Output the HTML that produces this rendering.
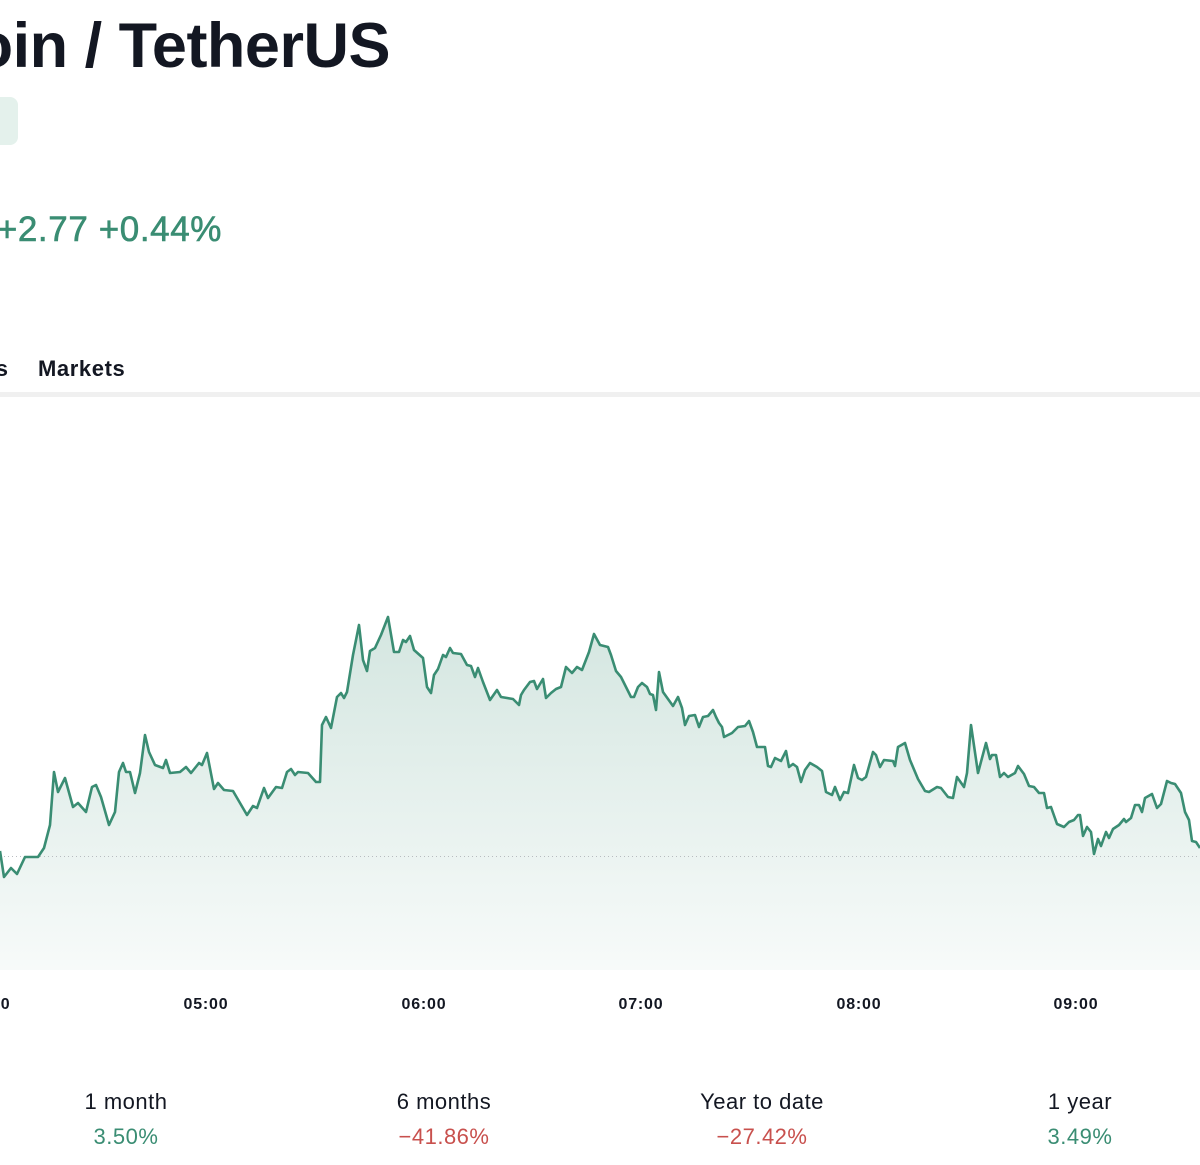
<!DOCTYPE html>
<html><head><meta charset="utf-8"><style>
html,body{margin:0;padding:0;background:#fff;width:1200px;height:1165px;overflow:hidden;position:relative;font-family:"Liberation Sans",sans-serif;color:#131722}
.a{position:absolute;white-space:nowrap}
#w{position:absolute;left:0;top:0;width:1200px;height:1165px;overflow:hidden}
</style></head><body><div id="w">
<div class="a" style="right:810px;top:6px;font-size:63px;font-weight:700;letter-spacing:-0.5px;line-height:80px">Bitcoin / TetherUS</div>
<div class="a" style="left:-20px;top:97px;width:38px;height:48px;background:#e4f1ec;border-radius:8px"></div>
<div class="a" style="right:978px;top:208px;font-size:35px;color:#3a8d73;line-height:44px;letter-spacing:0.6px;-webkit-text-stroke:0.6px #3a8d73">+2.77 +0.44%</div>
<div class="a" style="right:1192px;top:355px;font-size:22px;font-weight:700;line-height:28px">Ideas</div>
<div class="a" style="left:38px;top:355px;font-size:22px;font-weight:700;line-height:28px;letter-spacing:0.6px">Markets</div>
<div class="a" style="left:0;top:392px;width:1200px;height:5px;background:#f0f0f0"></div>
<svg class="a" style="left:0;top:0" width="1200" height="1165">
<defs><linearGradient id="g" x1="0" y1="617" x2="0" y2="970" gradientUnits="userSpaceOnUse"><stop offset="0" stop-color="#3a8d73" stop-opacity="0.22"/><stop offset="1" stop-color="#3a8d73" stop-opacity="0.04"/></linearGradient></defs>
<polygon fill="url(#g)" points="0,970 0,851 4,877 11,868 17,874 25,857 38,857 44,848 50,825 54,772 58,792 65,778 73,807 78,803 86,812 92,787 96,785 101,797 109,825 115,812 119,772 123,763 126,772 130,772 135,793 140,773 145,735 149,752 155,765 163,768 166,760 170,773 180,772 186,767 191,773 199,763 202,765 207,753 214,789 218,783 224,790 233,791 247,815 253,806 257,808 264,788 268,798 276,787 282,788 287,772 291,769 295,775 298,772 308,773 316,782 320,782 322,725 326,717 331,728 337,697 341,693 344,698 347,692 353,655 359,625 363,660 367,671 370,651 375,648 381,635 388,617 394,652 399,652 403,640 406,642 410,636 414,650 423,658 427,687 431,693 434,675 438,669 443,655 446,657 450,648 453,653 461,654 467,665 471,666 475,677 478,668 483,682 490,700 497,690 501,697 513,699 519,705 521,695 524,690 530,682 534,681 537,689 543,679 546,698 551,693 556,689 561,687 566,667 572,673 577,667 582,670 589,652 594,634 600,645 608,647 611,655 616,671 621,677 631,697 634,697 638,687 642,683 647,687 650,694 653,695 656,710 659,672 663,692 673,706 678,697 682,708 685,725 689,716 695,715 699,727 703,717 708,716 713,710 716,717 719,723 722,727 724,737 732,733 738,727 745,726 749,721 753,732 757,747 765,747 768,766 771,767 775,758 781,761 786,751 789,767 793,764 797,767 801,782 805,770 810,763 817,767 822,771 826,792 832,795 835,787 840,800 844,792 848,793 854,765 858,778 862,780 866,777 873,752 876,755 880,767 884,760 893,761 895,766 898,747 905,743 910,760 918,779 925,791 929,792 937,787 941,788 948,797 953,798 957,777 964,787 967,773 971,725 978,773 986,743 990,759 992,755 996,755 1000,777 1004,773 1008,777 1015,773 1018,766 1024,774 1029,786 1034,787 1039,793 1044,793 1047,808 1051,807 1057,824 1064,827 1069,822 1074,820 1078,815 1080,815 1083,836 1087,827 1091,832 1094,854 1098,839 1101,846 1106,832 1109,838 1113,829 1119,825 1124,819 1126,822 1131,818 1135,805 1139,805 1142,812 1145,798 1152,794 1157,808 1161,804 1167,781 1171,783 1175,784 1181,793 1185,812 1189,820 1192,841 1196,842 1200,848 1200,970"/>
<line x1="0" y1="856.5" x2="1200" y2="856.5" stroke="#b8bcc0" stroke-width="1" stroke-dasharray="1,3"/>
<polyline fill="none" stroke="#3a8d73" stroke-width="2.6" stroke-linejoin="round" points="0,851 4,877 11,868 17,874 25,857 38,857 44,848 50,825 54,772 58,792 65,778 73,807 78,803 86,812 92,787 96,785 101,797 109,825 115,812 119,772 123,763 126,772 130,772 135,793 140,773 145,735 149,752 155,765 163,768 166,760 170,773 180,772 186,767 191,773 199,763 202,765 207,753 214,789 218,783 224,790 233,791 247,815 253,806 257,808 264,788 268,798 276,787 282,788 287,772 291,769 295,775 298,772 308,773 316,782 320,782 322,725 326,717 331,728 337,697 341,693 344,698 347,692 353,655 359,625 363,660 367,671 370,651 375,648 381,635 388,617 394,652 399,652 403,640 406,642 410,636 414,650 423,658 427,687 431,693 434,675 438,669 443,655 446,657 450,648 453,653 461,654 467,665 471,666 475,677 478,668 483,682 490,700 497,690 501,697 513,699 519,705 521,695 524,690 530,682 534,681 537,689 543,679 546,698 551,693 556,689 561,687 566,667 572,673 577,667 582,670 589,652 594,634 600,645 608,647 611,655 616,671 621,677 631,697 634,697 638,687 642,683 647,687 650,694 653,695 656,710 659,672 663,692 673,706 678,697 682,708 685,725 689,716 695,715 699,727 703,717 708,716 713,710 716,717 719,723 722,727 724,737 732,733 738,727 745,726 749,721 753,732 757,747 765,747 768,766 771,767 775,758 781,761 786,751 789,767 793,764 797,767 801,782 805,770 810,763 817,767 822,771 826,792 832,795 835,787 840,800 844,792 848,793 854,765 858,778 862,780 866,777 873,752 876,755 880,767 884,760 893,761 895,766 898,747 905,743 910,760 918,779 925,791 929,792 937,787 941,788 948,797 953,798 957,777 964,787 967,773 971,725 978,773 986,743 990,759 992,755 996,755 1000,777 1004,773 1008,777 1015,773 1018,766 1024,774 1029,786 1034,787 1039,793 1044,793 1047,808 1051,807 1057,824 1064,827 1069,822 1074,820 1078,815 1080,815 1083,836 1087,827 1091,832 1094,854 1098,839 1101,846 1106,832 1109,838 1113,829 1119,825 1124,819 1126,822 1131,818 1135,805 1139,805 1142,812 1145,798 1152,794 1157,808 1161,804 1167,781 1171,783 1175,784 1181,793 1185,812 1189,820 1192,841 1196,842 1200,848"/>
<g font-family="Liberation Sans, sans-serif" font-size="16" font-weight="700" fill="#131722" text-anchor="middle" letter-spacing="0.8">
<text x="-12" y="1009">04:00</text><text x="206" y="1009">05:00</text><text x="424" y="1009">06:00</text><text x="641" y="1009">07:00</text><text x="859" y="1009">08:00</text><text x="1076" y="1009">09:00</text>
</g>
<g font-family="Liberation Sans, sans-serif" font-size="22" text-anchor="middle" letter-spacing="0.5">
<text x="126" y="1109" fill="#131722">1 month</text><text x="126" y="1144" fill="#3a8d73">3.50%</text>
<text x="444" y="1109" fill="#131722">6 months</text><text x="444" y="1144" fill="#c8504d">−41.86%</text>
<text x="762" y="1109" fill="#131722">Year to date</text><text x="762" y="1144" fill="#c8504d">−27.42%</text>
<text x="1080" y="1109" fill="#131722">1 year</text><text x="1080" y="1144" fill="#3a8d73">3.49%</text>
</g>
</svg>
</div></body></html>
